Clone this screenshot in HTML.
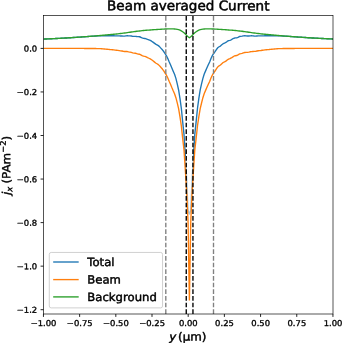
<!DOCTYPE html>
<html><head><meta charset="utf-8"><title>Beam averaged Current</title>
<style>html,body{margin:0;padding:0;background:#fff;overflow:hidden}body{width:342px;height:343px}</style></head>
<body>
<svg width="342" height="343" viewBox="0 0 342 343" style="display:block">
<rect x="0" y="0" width="342" height="343" fill="#fff"/>
<defs><clipPath id="ax"><rect x="43.5" y="15.5" width="289.5" height="298.5"/></clipPath></defs>
<g clip-path="url(#ax)" fill="none" stroke-linejoin="round">
<path d="M43.50,39.10 L43.60,39.09 L44.95,39.04 L46.30,38.98 L47.65,38.92 L49.00,38.86 L50.35,38.80 L51.70,38.74 L53.05,38.68 L54.40,38.61 L55.75,38.55 L57.10,38.48 L58.45,38.41 L59.80,38.34 L61.15,38.26 L62.50,38.19 L63.85,38.12 L65.20,38.04 L66.55,37.96 L67.90,37.88 L69.25,37.80 L70.60,37.72 L71.95,37.63 L73.30,37.55 L74.65,37.46 L76.00,37.37 L77.35,37.28 L78.70,37.19 L80.05,37.10 L81.40,37.01 L82.75,36.92 L84.10,36.82 L85.45,36.72 L86.80,36.63 L88.15,36.53 L89.50,36.43 L90.85,36.33 L92.20,36.24 L93.55,36.15 L94.90,36.07 L96.25,35.99 L97.60,35.92 L98.95,35.85 L100.30,35.78 L101.65,35.73 L103.00,35.71 L104.35,35.70 L105.70,35.71 L107.05,35.72 L108.40,35.73 L109.75,35.74 L111.10,35.75 L112.45,35.77 L113.80,35.79 L115.15,35.81 L116.50,35.82 L117.85,35.81 L119.20,35.88 L120.55,35.95 L121.90,35.97 L123.25,36.06 L124.60,36.07 L125.95,35.88 L127.30,35.77 L128.65,35.91 L130.00,35.90 L131.35,36.04 L132.70,36.34 L134.05,36.38 L135.40,36.33 L136.75,36.55 L138.10,36.69 L139.45,36.74 L140.80,37.26 L142.15,37.87 L143.50,38.31 L144.85,38.45 L146.20,38.84 L147.55,39.42 L148.90,39.93 L150.25,40.45 L151.60,41.21 L152.95,42.13 L154.30,43.13 L155.65,44.14 L157.00,44.87 L158.35,45.63 L159.70,46.84 L161.05,48.35 L162.40,49.82 L163.75,51.54 L165.10,53.68 L166.45,55.80 L167.80,58.58 L169.15,61.73 L170.50,64.69 L171.85,68.03 L173.20,71.22 L174.55,74.29 L175.90,78.40 L177.25,83.85 L178.60,89.98 L179.95,98.46 L181.30,108.05 L182.65,121.47 L184.00,134.39 L185.35,156.16" stroke="#1f77b4" stroke-width="1.370"/>
<path d="M185.35,156.16 L186.70,179.06 L188.05,210.32 L189.40,214.00 L190.75,210.32 L192.10,179.06 L193.45,156.15" stroke="#1f77b4" stroke-opacity="0.4" stroke-width="1.370"/>
<path d="M193.45,156.15 L194.80,134.37 L196.15,121.56 L197.50,108.23 L198.85,98.41 L200.20,89.95 L201.55,83.94 L202.90,78.40 L204.25,74.03 L205.60,70.87 L206.95,67.77 L208.30,64.79 L209.65,61.97 L211.00,58.57 L212.35,55.60 L213.70,53.47 L215.05,51.69 L216.40,49.67 L217.75,47.74 L219.10,46.74 L220.45,46.03 L221.80,44.76 L223.15,43.68 L224.50,43.10 L225.85,42.48 L227.20,41.43 L228.55,40.64 L229.90,40.35 L231.25,39.76 L232.60,38.96 L233.95,38.24 L235.30,37.85 L236.65,37.81 L238.00,37.30 L239.35,36.55 L240.70,36.40 L242.05,36.16 L243.40,35.86 L244.75,35.74 L246.10,35.84 L247.45,36.05 L248.80,35.99 L250.15,35.82 L251.50,35.80 L252.85,35.92 L254.20,36.05 L255.55,36.11 L256.90,35.97 L258.25,35.83 L259.60,35.88 L260.95,35.92 L262.30,35.86 L263.65,35.82 L265.00,35.79 L266.35,35.77 L267.70,35.75 L269.05,35.74 L270.40,35.73 L271.75,35.72 L273.10,35.71 L274.45,35.70 L275.80,35.71 L277.15,35.73 L278.50,35.78 L279.85,35.85 L281.20,35.92 L282.55,35.99 L283.90,36.07 L285.25,36.15 L286.60,36.24 L287.95,36.33 L289.30,36.43 L290.65,36.53 L292.00,36.63 L293.35,36.72 L294.70,36.82 L296.05,36.92 L297.40,37.01 L298.75,37.10 L300.10,37.19 L301.45,37.28 L302.80,37.37 L304.15,37.46 L305.50,37.55 L306.85,37.63 L308.20,37.72 L309.55,37.80 L310.90,37.88 L312.25,37.96 L313.60,38.04 L314.95,38.12 L316.30,38.19 L317.65,38.26 L319.00,38.34 L320.35,38.41 L321.70,38.48 L323.05,38.55 L324.40,38.61 L325.75,38.68 L327.10,38.74 L328.45,38.80 L329.80,38.86 L331.15,38.92 L332.50,38.98 L333.00,39.00" stroke="#1f77b4" stroke-width="1.370"/>
<path d="M43.50,48.40 L43.60,48.40 L44.95,48.40 L46.30,48.40 L47.65,48.40 L49.00,48.40 L50.35,48.40 L51.70,48.40 L53.05,48.40 L54.40,48.40 L55.75,48.40 L57.10,48.40 L58.45,48.40 L59.80,48.40 L61.15,48.41 L62.50,48.41 L63.85,48.41 L65.20,48.41 L66.55,48.41 L67.90,48.41 L69.25,48.41 L70.60,48.41 L71.95,48.42 L73.30,48.42 L74.65,48.42 L76.00,48.42 L77.35,48.42 L78.70,48.43 L80.05,48.43 L81.40,48.43 L82.75,48.43 L84.10,48.44 L85.45,48.44 L86.80,48.44 L88.15,48.45 L89.50,48.45 L90.85,48.46 L92.20,48.47 L93.55,48.49 L94.90,48.51 L96.25,48.55 L97.60,48.58 L98.95,48.62 L100.30,48.67 L101.65,48.74 L103.00,48.83 L104.35,48.95 L105.70,49.08 L107.05,49.22 L108.40,49.36 L109.75,49.50 L111.10,49.63 L112.45,49.78 L113.80,49.94 L115.15,50.11 L116.50,50.25 L117.85,50.39 L119.20,50.60 L120.55,50.83 L121.90,51.01 L123.25,51.27 L124.60,51.46 L125.95,51.46 L127.30,51.55 L128.65,51.89 L130.00,52.08 L131.35,52.42 L132.70,52.91 L134.05,53.15 L135.40,53.28 L136.75,53.68 L138.10,53.98 L139.45,54.20 L140.80,54.85 L142.15,55.60 L143.50,56.16 L144.85,56.43 L146.20,56.94 L147.55,57.63 L148.90,58.25 L150.25,58.88 L151.60,59.74 L152.95,60.76 L154.30,61.86 L155.65,62.97 L157.00,63.78 L158.35,64.63 L159.70,65.93 L161.05,67.52 L162.40,69.07 L163.75,70.86 L165.10,73.06 L166.45,75.23 L167.80,78.06 L169.15,81.25 L170.50,84.23 L171.85,87.58 L173.20,90.73 L174.55,93.71 L175.90,97.70 L177.25,102.93 L178.60,108.71 L179.95,116.68 L181.30,125.58 L182.65,138.15 L184.00,150.04 L185.35,170.50 L186.70,192.00 L188.05,222.00 L189.40,300.60 L190.75,222.00 L192.10,192.00 L193.45,170.50 L194.80,150.02 L196.15,138.24 L197.50,125.76 L198.85,116.63 L200.20,108.68 L201.55,103.01 L202.90,97.70 L204.25,93.46 L205.60,90.37 L206.95,87.32 L208.30,84.33 L209.65,81.49 L211.00,78.05 L212.35,75.03 L213.70,72.85 L215.05,71.01 L216.40,68.92 L217.75,66.91 L219.10,65.83 L220.45,65.03 L221.80,63.68 L223.15,62.50 L224.50,61.83 L225.85,61.11 L227.20,59.96 L228.55,59.06 L229.90,58.67 L231.25,57.97 L232.60,57.06 L233.95,56.22 L235.30,55.71 L236.65,55.54 L238.00,54.89 L239.35,54.00 L240.70,53.70 L242.05,53.29 L243.40,52.82 L244.75,52.51 L246.10,52.41 L247.45,52.42 L248.80,52.17 L250.15,51.80 L251.50,51.58 L252.85,51.50 L254.20,51.44 L255.55,51.32 L256.90,51.01 L258.25,50.71 L259.60,50.61 L260.95,50.50 L262.30,50.29 L263.65,50.11 L265.00,49.94 L266.35,49.78 L267.70,49.63 L269.05,49.50 L270.40,49.36 L271.75,49.22 L273.10,49.08 L274.45,48.95 L275.80,48.83 L277.15,48.74 L278.50,48.67 L279.85,48.62 L281.20,48.58 L282.55,48.55 L283.90,48.51 L285.25,48.49 L286.60,48.47 L287.95,48.46 L289.30,48.45 L290.65,48.45 L292.00,48.44 L293.35,48.44 L294.70,48.44 L296.05,48.43 L297.40,48.43 L298.75,48.43 L300.10,48.43 L301.45,48.42 L302.80,48.42 L304.15,48.42 L305.50,48.42 L306.85,48.42 L308.20,48.41 L309.55,48.41 L310.90,48.41 L312.25,48.41 L313.60,48.41 L314.95,48.41 L316.30,48.41 L317.65,48.41 L319.00,48.40 L320.35,48.40 L321.70,48.40 L323.05,48.40 L324.40,48.40 L325.75,48.40 L327.10,48.40 L328.45,48.40 L329.80,48.40 L331.15,48.40 L332.50,48.40 L333.00,48.40" stroke="#ff7f0e" stroke-width="1.370" stroke-linejoin="bevel"/>
<path d="M43.50,39.10 L43.60,39.09 L44.95,39.04 L46.30,38.98 L47.65,38.92 L49.00,38.86 L50.35,38.80 L51.70,38.74 L53.05,38.68 L54.40,38.61 L55.75,38.54 L57.10,38.47 L58.45,38.40 L59.80,38.33 L61.15,38.26 L62.50,38.18 L63.85,38.11 L65.20,38.03 L66.55,37.95 L67.90,37.87 L69.25,37.79 L70.60,37.70 L71.95,37.62 L73.30,37.53 L74.65,37.44 L76.00,37.35 L77.35,37.26 L78.70,37.17 L80.05,37.07 L81.40,36.98 L82.75,36.88 L84.10,36.78 L85.45,36.69 L86.80,36.58 L88.15,36.48 L89.50,36.38 L90.85,36.28 L92.20,36.17 L93.55,36.06 L94.90,35.96 L96.25,35.85 L97.60,35.74 L98.95,35.62 L100.30,35.51 L101.65,35.39 L103.00,35.27 L104.35,35.15 L105.70,35.03 L107.05,34.90 L108.40,34.78 L109.75,34.65 L111.10,34.52 L112.45,34.38 L113.80,34.25 L115.15,34.11 L116.50,33.97 L117.85,33.82 L119.20,33.68 L120.55,33.53 L121.90,33.36 L123.25,33.19 L124.60,33.01 L125.95,32.82 L127.30,32.62 L128.65,32.42 L130.00,32.22 L131.35,32.02 L132.70,31.83 L134.05,31.63 L135.40,31.45 L136.75,31.27 L138.10,31.10 L139.45,30.95 L140.80,30.81 L142.15,30.67 L143.50,30.54 L144.85,30.42 L146.20,30.30 L147.55,30.19 L148.90,30.08 L150.25,29.97 L151.60,29.87 L152.95,29.77 L154.30,29.67 L155.65,29.57 L157.00,29.48 L158.35,29.39 L159.70,29.31 L161.05,29.23 L162.40,29.15 L163.75,29.08 L165.10,29.02 L166.45,28.97 L167.80,28.92 L169.15,28.88 L170.50,28.86 L171.85,28.85 L173.20,28.90 L174.55,28.98 L175.90,29.10 L177.25,29.32 L178.60,29.67 L179.95,30.18 L181.30,30.87 L182.65,31.72 L184.00,32.75 L185.35,34.06 L186.70,35.46 L188.05,36.72 L189.40,37.70 L190.75,36.72 L192.10,35.46 L193.45,34.06 L194.80,32.75 L196.15,31.72 L197.50,30.87 L198.85,30.18 L200.20,29.67 L201.55,29.32 L202.90,29.10 L204.25,28.98 L205.60,28.90 L206.95,28.85 L208.30,28.86 L209.65,28.88 L211.00,28.92 L212.35,28.97 L213.70,29.02 L215.05,29.08 L216.40,29.15 L217.75,29.23 L219.10,29.31 L220.45,29.39 L221.80,29.48 L223.15,29.57 L224.50,29.67 L225.85,29.77 L227.20,29.87 L228.55,29.97 L229.90,30.08 L231.25,30.19 L232.60,30.30 L233.95,30.42 L235.30,30.54 L236.65,30.67 L238.00,30.81 L239.35,30.95 L240.70,31.10 L242.05,31.27 L243.40,31.45 L244.75,31.63 L246.10,31.83 L247.45,32.02 L248.80,32.22 L250.15,32.42 L251.50,32.62 L252.85,32.82 L254.20,33.01 L255.55,33.19 L256.90,33.36 L258.25,33.53 L259.60,33.68 L260.95,33.82 L262.30,33.97 L263.65,34.11 L265.00,34.25 L266.35,34.38 L267.70,34.52 L269.05,34.65 L270.40,34.78 L271.75,34.90 L273.10,35.03 L274.45,35.15 L275.80,35.27 L277.15,35.39 L278.50,35.51 L279.85,35.62 L281.20,35.74 L282.55,35.85 L283.90,35.96 L285.25,36.06 L286.60,36.17 L287.95,36.28 L289.30,36.38 L290.65,36.48 L292.00,36.58 L293.35,36.69 L294.70,36.78 L296.05,36.88 L297.40,36.98 L298.75,37.07 L300.10,37.17 L301.45,37.26 L302.80,37.35 L304.15,37.44 L305.50,37.53 L306.85,37.62 L308.20,37.70 L309.55,37.79 L310.90,37.87 L312.25,37.95 L313.60,38.03 L314.95,38.11 L316.30,38.18 L317.65,38.26 L319.00,38.33 L320.35,38.40 L321.70,38.47 L323.05,38.54 L324.40,38.61 L325.75,38.68 L327.10,38.74 L328.45,38.80 L329.80,38.86 L331.15,38.92 L332.50,38.98 L333.00,39.00" stroke="#2ca02c" stroke-width="1.370"/>
<line x1="186.25" y1="314.0" x2="186.25" y2="15.5" stroke="#000" stroke-width="1.370" stroke-dasharray="4.654,2.012"/>
<line x1="192.95" y1="314.0" x2="192.95" y2="15.5" stroke="#000" stroke-width="1.370" stroke-dasharray="4.654,2.012"/>
<line x1="165.8" y1="314.0" x2="165.8" y2="15.5" stroke="#808080" stroke-width="1.370" stroke-dasharray="4.654,2.012"/>
<line x1="213.5" y1="314.0" x2="213.5" y2="15.5" stroke="#808080" stroke-width="1.370" stroke-dasharray="4.654,2.012"/>
</g>
<g stroke="#000" stroke-width="0.85">
<line x1="43.45" y1="314.0" x2="43.45" y2="316.92"/>
<line x1="79.64" y1="314.0" x2="79.64" y2="316.92"/>
<line x1="115.82" y1="314.0" x2="115.82" y2="316.92"/>
<line x1="152.01" y1="314.0" x2="152.01" y2="316.92"/>
<line x1="188.20" y1="314.0" x2="188.20" y2="316.92"/>
<line x1="224.39" y1="314.0" x2="224.39" y2="316.92"/>
<line x1="260.57" y1="314.0" x2="260.57" y2="316.92"/>
<line x1="296.76" y1="314.0" x2="296.76" y2="316.92"/>
<line x1="332.95" y1="314.0" x2="332.95" y2="316.92"/>
<line x1="43.5" y1="48.40" x2="40.58" y2="48.40"/>
<line x1="43.5" y1="91.95" x2="40.58" y2="91.95"/>
<line x1="43.5" y1="135.50" x2="40.58" y2="135.50"/>
<line x1="43.5" y1="179.05" x2="40.58" y2="179.05"/>
<line x1="43.5" y1="222.60" x2="40.58" y2="222.60"/>
<line x1="43.5" y1="266.15" x2="40.58" y2="266.15"/>
<line x1="43.5" y1="309.70" x2="40.58" y2="309.70"/>
</g>
<rect x="43.5" y="15.5" width="289.5" height="298.5" fill="none" stroke="#000" stroke-width="0.667"/>
<g font-family="'DejaVu Sans','Liberation Sans',sans-serif" fill="#000" stroke="#000" stroke-linejoin="round">
<text transform="translate(43.55,326.05) rotate(0.03) scale(1.0120,0.9700)" font-size="8.33px" text-anchor="middle" stroke-width="0.35">−1.00</text>
<text transform="translate(79.74,326.05) rotate(0.03) scale(1.0120,0.9700)" font-size="8.33px" text-anchor="middle" stroke-width="0.35">−0.75</text>
<text transform="translate(115.92,326.05) rotate(0.03) scale(1.0120,0.9700)" font-size="8.33px" text-anchor="middle" stroke-width="0.35">−0.50</text>
<text transform="translate(152.11,326.05) rotate(0.03) scale(1.0120,0.9700)" font-size="8.33px" text-anchor="middle" stroke-width="0.35">−0.25</text>
<text transform="translate(188.30,326.05) rotate(0.03) scale(1.0120,0.9700)" font-size="8.33px" text-anchor="middle" stroke-width="0.35">0.00</text>
<text transform="translate(224.49,326.05) rotate(0.03) scale(1.0120,0.9700)" font-size="8.33px" text-anchor="middle" stroke-width="0.35">0.25</text>
<text transform="translate(260.68,326.05) rotate(0.03) scale(1.0120,0.9700)" font-size="8.33px" text-anchor="middle" stroke-width="0.35">0.50</text>
<text transform="translate(296.86,326.05) rotate(0.03) scale(1.0120,0.9700)" font-size="8.33px" text-anchor="middle" stroke-width="0.35">0.75</text>
<text transform="translate(333.05,326.05) rotate(0.03) scale(1.0120,0.9700)" font-size="8.33px" text-anchor="middle" stroke-width="0.35">1.00</text>
<text transform="translate(37.20,51.55) rotate(0.03) scale(1.0120,0.9700)" font-size="8.33px" text-anchor="end" stroke-width="0.35">0.0</text>
<text transform="translate(37.20,95.10) rotate(0.03) scale(1.0120,0.9700)" font-size="8.33px" text-anchor="end" stroke-width="0.35">−0.2</text>
<text transform="translate(37.20,138.65) rotate(0.03) scale(1.0120,0.9700)" font-size="8.33px" text-anchor="end" stroke-width="0.35">−0.4</text>
<text transform="translate(37.20,182.20) rotate(0.03) scale(1.0120,0.9700)" font-size="8.33px" text-anchor="end" stroke-width="0.35">−0.6</text>
<text transform="translate(37.20,225.75) rotate(0.03) scale(1.0120,0.9700)" font-size="8.33px" text-anchor="end" stroke-width="0.35">−0.8</text>
<text transform="translate(37.20,269.30) rotate(0.03) scale(1.0120,0.9700)" font-size="8.33px" text-anchor="end" stroke-width="0.35">−1.0</text>
<text transform="translate(37.20,312.85) rotate(0.03) scale(1.0120,0.9700)" font-size="8.33px" text-anchor="end" stroke-width="0.35">−1.2</text>
<text transform="translate(188.25,10.35) rotate(0.03) scale(1.0150,1.0000)" font-size="13.33px" text-anchor="middle" stroke-width="0.5">Beam averaged Current</text>
<text transform="translate(169.30,340.40) rotate(0.03) scale(1.0200,0.9600)" font-size="11.67px" text-anchor="start" stroke-width="0.45"><tspan font-style="italic">y</tspan><tspan dx="-2.0"> (µm)</tspan></text>
<text transform="translate(10.30,195.00) rotate(-89.97) scale(1.0200,0.9600)" font-size="11.67px" text-anchor="start" stroke-width="0.4"><tspan font-style="italic">j</tspan><tspan font-style="italic" font-size="8.17px" dy="1.98">x</tspan><tspan dy="-1.98" dx="-0.6"> (PAm</tspan><tspan font-size="8.17px" dy="-4.67">−2</tspan><tspan dy="4.67">)</tspan></text>
<rect x="49.3" y="252.45" width="113.25" height="55.45" rx="1.9" fill="#fff" fill-opacity="0.8" stroke="#c6c6c6" stroke-width="0.833"/>
<line x1="53.87" y1="262.0" x2="78.00" y2="262.0" stroke="#1f77b4" stroke-width="1.370" stroke-linecap="square"/>
<text transform="translate(87.30,266.00) rotate(0.03) scale(1.0000,0.9700)" font-size="11.67px" text-anchor="start" stroke-width="0.45">Total</text>
<line x1="53.87" y1="279.6" x2="78.00" y2="279.6" stroke="#ff7f0e" stroke-width="1.370" stroke-linecap="square"/>
<text transform="translate(87.30,283.60) rotate(0.03) scale(1.0000,0.9700)" font-size="11.67px" text-anchor="start" stroke-width="0.45">Beam</text>
<line x1="53.87" y1="296.9" x2="78.00" y2="296.9" stroke="#2ca02c" stroke-width="1.370" stroke-linecap="square"/>
<text transform="translate(87.30,300.90) rotate(0.03) scale(1.0000,0.9700)" font-size="11.67px" text-anchor="start" stroke-width="0.45">Background</text>
</g>
</svg>
</body></html>
